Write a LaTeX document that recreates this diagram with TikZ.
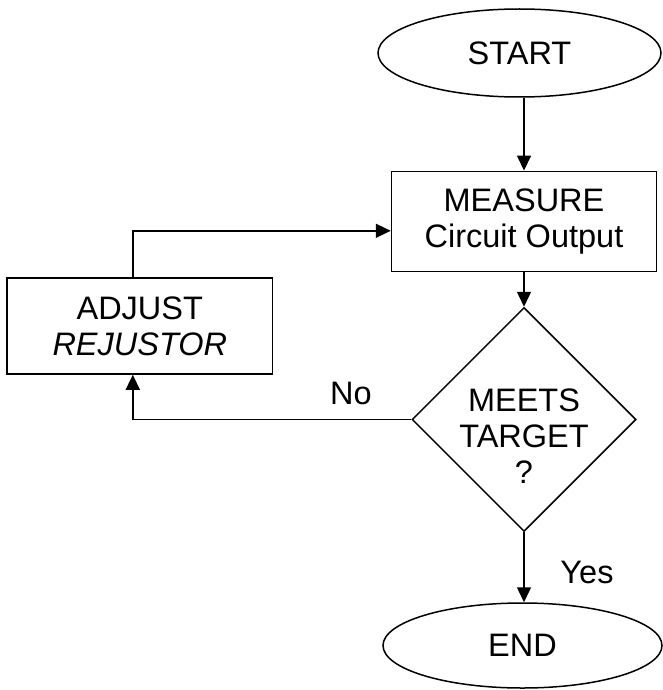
\documentclass[tikz,border=0pt]{standalone}
\usepackage{fontspec}
\setmainfont{Liberation Sans}
\usepackage{tikz}
\usetikzlibrary{arrows.meta,positioning,calc,shapes.geometric}

\begin{document}
\begin{tikzpicture}[
    x=1pt,y=-1pt,
    font=\fontsize{32.5}{36}\selectfont,
    every node/.style={inner sep=0pt},
    terminal/.style={ellipse,draw,line width=1.5pt},
    process/.style={rectangle,draw,line width=1.5pt,align=center},
    decision/.style={diamond,draw,line width=1.5pt,aspect=1,align=center,inner sep=-9pt,text height=128pt,text depth=0pt},
    arr/.style={-{Triangle[length=15pt,width=14pt]},line width=1.5pt}
  ]
    \useasboundingbox (0,0) rectangle (663,690);
    \node[terminal,minimum width=283pt,minimum height=88pt] (start) at (519.5,53) {START};
    \node[process,minimum width=265pt,minimum height=100pt] (measure) at (524,221.3) {MEASURE\\Circuit Output};
    \node[decision,minimum width=224pt,minimum height=224pt] (check) at (524,419.5) {MEETS\\TARGET\\?};
    \node[process,minimum width=265.5pt,minimum height=96pt] (adjust) at (139.8,326) {ADJUST\\\itshape REJUSTOR};
    \node[terminal,minimum width=279pt,minimum height=85pt] (end) at (522.5,645.5) {END};
    \draw[arr] (measure.north |- start.south) -- (measure.north);
    \draw[arr] (measure.south) -- (check.north);
    \draw[arr] (check.south) -- (check.south |- end.north);
    \draw[arr] (check.west) -| ([xshift=-7pt]adjust.south);
    \draw[arr] ([xshift=-7pt]adjust.north) |- ([yshift=-9.5pt]measure.west);
    \node (no) at (351,393.5) {No};
    \node (yes) at (587,572) {Yes};
  \end{tikzpicture}
\end{document}
